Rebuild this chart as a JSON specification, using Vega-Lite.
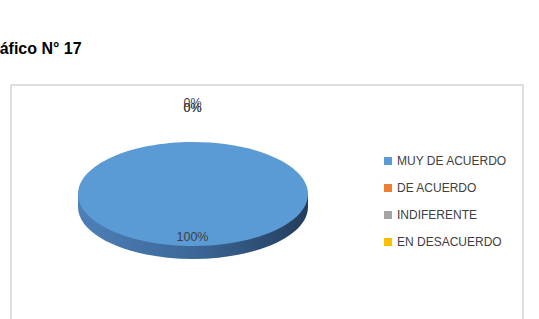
{
  "$schema": "https://vega.github.io/schema/vega-lite/v6.json",
  "width": 512,
  "height": 240,
  "autosize": {"type": "none"},
  "padding": {"left": 11, "top": 85, "right": 16, "bottom": -6},
  "background": "white",
  "view": {"stroke": "#d4d4d4", "strokeWidth": 1.5, "fill": "white"},
  "title": {"text": "Gráfico N° 17", "anchor": "start", "fontSize": 16, "fontWeight": "bold", "font": "Liberation Sans", "color": "#000000", "dx": -30, "offset": 15, "baseline": "alphabetic"},
  "config": {
    "font": "Liberation Sans"
  },
  "data": {"values": [
    {"categoria": "MUY DE ACUERDO", "porcentaje": 1},
    {"categoria": "DE ACUERDO", "porcentaje": 0},
    {"categoria": "INDIFERENTE", "porcentaje": 0},
    {"categoria": "EN DESACUERDO", "porcentaje": 0}
  ]},
  "layer": [
    {
      "mark": {
        "type": "point", "filled": true, "opacity": 1, "xOffset": -74, "yOffset": -11,
        "shape": "M-1,0L-1,0.113C-1,0.363 -0.5523,0.565 0,0.565C0.5523,0.565 1,0.363 1,0.113L1,0Z",
        "fill": {"gradient": "linear", "x1": 0, "y1": 0, "x2": 1, "y2": 0, "stops": [
          {"offset": 0, "color": "#4d7fb8"},
          {"offset": 0.5, "color": "#3c6899"},
          {"offset": 1, "color": "#233d5c"}
        ]}
      },
      "encoding": {
        "size": {"field": "porcentaje", "type": "quantitative", "scale": {"type": "linear", "domain": [0, 1], "range": [0, 52900], "zero": true}, "legend": null}
      }
    },
    {
      "mark": {
        "type": "point", "filled": true, "opacity": 1, "xOffset": -74, "yOffset": -11,
        "shape": "M-1,0C-1,-0.25 -0.5523,-0.452 0,-0.452C0.5523,-0.452 1,-0.25 1,0C1,0.25 0.5523,0.452 0,0.452C-0.5523,0.452 -1,0.25 -1,0Z"
      },
      "encoding": {
        "size": {"field": "porcentaje", "type": "quantitative", "scale": {"type": "linear", "domain": [0, 1], "range": [0, 52900], "zero": true}, "legend": null},
        "color": {
          "field": "categoria", "type": "nominal",
          "scale": {"domain": ["MUY DE ACUERDO", "DE ACUERDO", "INDIFERENTE", "EN DESACUERDO"], "range": ["#5b9bd5", "#ed7d31", "#a5a5a5", "#ffc000"]},
          "legend": {
            "title": null, "orient": "none", "legendX": 371, "legendY": 70,
            "symbolType": "square", "symbolSize": 64, "symbolStrokeWidth": 0,
            "labelFontSize": 12, "labelColor": "#404040", "labelFont": "Liberation Sans",
            "rowPadding": 15, "labelOffset": 3, "padding": 0
          }
        }
      }
    },
    {
      "transform": [{"filter": "datum.porcentaje > 0"}],
      "mark": {"type": "text", "xOffset": -74.5, "yOffset": 32, "fontSize": 12.5, "color": "#404040", "baseline": "middle", "align": "center"},
      "encoding": {"text": {"field": "porcentaje", "type": "quantitative", "format": ".0%"}}
    },
    {
      "transform": [{"filter": "datum.categoria == 'DE ACUERDO'"}],
      "mark": {"type": "text", "xOffset": -74.5, "yOffset": -102, "fontSize": 12.5, "color": "#404040", "baseline": "middle", "align": "center"},
      "encoding": {"text": {"field": "porcentaje", "type": "quantitative", "format": ".0%"}}
    },
    {
      "transform": [{"filter": "datum.porcentaje == 0 && datum.categoria != 'DE ACUERDO'"}],
      "mark": {"type": "text", "xOffset": -74.5, "yOffset": -97, "fontSize": 12.5, "color": "#404040", "baseline": "middle", "align": "center"},
      "encoding": {"text": {"field": "porcentaje", "type": "quantitative", "format": ".0%"}}
    }
  ]
}
